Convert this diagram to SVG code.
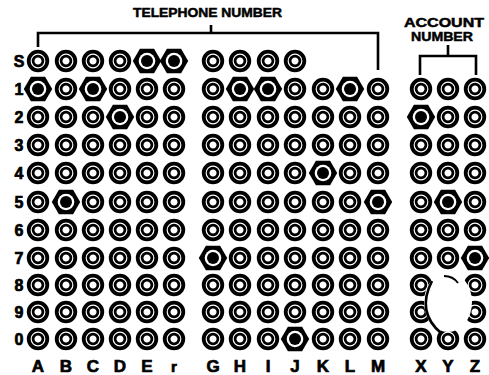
<svg xmlns="http://www.w3.org/2000/svg" xmlns:xlink="http://www.w3.org/1999/xlink" width="489" height="375" viewBox="0 0 489 375">
<style>
.lbl{font-family:"Liberation Sans",Arial,sans-serif;font-weight:bold;fill:#000;stroke:#000;stroke-width:0.7}
.row{font-size:16px;text-anchor:middle}
.col{font-size:17px;text-anchor:middle}
.ttl{font-size:13px;stroke-width:0.5}
.br{fill:none;stroke:#000;stroke-width:2.6}
</style>
<defs>
<g id="c"><circle r="9.3" fill="none" stroke="#000" stroke-width="3.8"/><circle r="4.9" fill="none" stroke="#000" stroke-width="2.7"/></g>
<g id="h"><polygon points="14.2,0 7.1,12.3 -7.1,12.3 -14.2,0 -7.1,-12.3 7.1,-12.3" fill="#000"/><circle r="8.3" fill="#fff"/><circle r="6" fill="#000"/></g>
</defs>
<rect width="489" height="375" fill="#fff"/>
<g id="titles">
<text class="lbl ttl" x="133" y="17" textLength="149" lengthAdjust="spacingAndGlyphs">TELEPHONE NUMBER</text>
<text class="lbl ttl" x="404" y="27" textLength="80" lengthAdjust="spacingAndGlyphs">ACCOUNT</text>
<text class="lbl ttl" x="411" y="41" textLength="62" lengthAdjust="spacingAndGlyphs">NUMBER</text>
</g>
<g id="connectors">
<path class="br" d="M38,47 V33 H378 V70 M211,25 V33"/>
<path class="br" d="M420,75 V56 H476 V75 M448,45 V56"/>
</g>
<g id="row-labels">
<text class="lbl row" x="19" y="67">S</text>
<text class="lbl row" x="19" y="95">1</text>
<text class="lbl row" x="19" y="123">2</text>
<text class="lbl row" x="19" y="151">3</text>
<text class="lbl row" x="19" y="179">4</text>
<text class="lbl row" x="19" y="208">5</text>
<text class="lbl row" x="19" y="236">6</text>
<text class="lbl row" x="19" y="264">7</text>
<text class="lbl row" x="19" y="291">8</text>
<text class="lbl row" x="19" y="318">9</text>
<text class="lbl row" x="19" y="345">0</text>
</g>
<g id="col-labels">
<text class="lbl col" x="38" y="372">A</text>
<text class="lbl col" x="66" y="372">B</text>
<text class="lbl col" x="93" y="372">C</text>
<text class="lbl col" x="120" y="372">D</text>
<text class="lbl col" x="147" y="372">E</text>
<text class="lbl col" x="174" y="372" style="font-size:15px">r</text>
<text class="lbl col" x="213" y="372">G</text>
<text class="lbl col" x="240" y="372">H</text>
<text class="lbl col" x="268" y="372">I</text>
<text class="lbl col" x="295" y="372">J</text>
<text class="lbl col" x="323" y="372">K</text>
<text class="lbl col" x="350" y="372">L</text>
<text class="lbl col" x="378" y="372">M</text>
<text class="lbl col" x="421" y="372">X</text>
<text class="lbl col" x="448" y="372">Y</text>
<text class="lbl col" x="475" y="372">Z</text>
</g>
<g id="holes">
<!-- row S -->
<g id="A-S"><use href="#c" x="38" y="61"/></g>
<g id="B-S"><use href="#c" x="66" y="61"/></g>
<g id="C-S"><use href="#c" x="93" y="61"/></g>
<g id="D-S"><use href="#c" x="120" y="61"/></g>
<g id="E-S"><use href="#h" x="147" y="61"/></g>
<g id="r-S"><use href="#h" x="174" y="61"/></g>
<g id="G-S"><use href="#c" x="213" y="61"/></g>
<g id="H-S"><use href="#c" x="240" y="61"/></g>
<g id="I-S"><use href="#c" x="268" y="61"/></g>
<g id="J-S"><use href="#c" x="295" y="61"/></g>
<!-- row 1 -->
<g id="A-1"><use href="#h" x="38" y="89"/></g>
<g id="B-1"><use href="#c" x="66" y="89"/></g>
<g id="C-1"><use href="#h" x="93" y="89"/></g>
<g id="D-1"><use href="#c" x="120" y="89"/></g>
<g id="E-1"><use href="#c" x="147" y="89"/></g>
<g id="r-1"><use href="#c" x="174" y="89"/></g>
<g id="G-1"><use href="#c" x="213" y="89"/></g>
<g id="H-1"><use href="#h" x="240" y="89"/></g>
<g id="I-1"><use href="#h" x="268" y="89"/></g>
<g id="J-1"><use href="#c" x="295" y="89"/></g>
<g id="K-1"><use href="#c" x="323" y="89"/></g>
<g id="L-1"><use href="#h" x="350" y="89"/></g>
<g id="M-1"><use href="#c" x="378" y="89"/></g>
<g id="X-1"><use href="#c" x="421" y="89"/></g>
<g id="Y-1"><use href="#c" x="448" y="89"/></g>
<g id="Z-1"><use href="#c" x="475" y="89"/></g>
<!-- row 2 -->
<g id="A-2"><use href="#c" x="38" y="117"/></g>
<g id="B-2"><use href="#c" x="66" y="117"/></g>
<g id="C-2"><use href="#c" x="93" y="117"/></g>
<g id="D-2"><use href="#h" x="120" y="117"/></g>
<g id="E-2"><use href="#c" x="147" y="117"/></g>
<g id="r-2"><use href="#c" x="174" y="117"/></g>
<g id="G-2"><use href="#c" x="213" y="117"/></g>
<g id="H-2"><use href="#c" x="240" y="117"/></g>
<g id="I-2"><use href="#c" x="268" y="117"/></g>
<g id="J-2"><use href="#c" x="295" y="117"/></g>
<g id="K-2"><use href="#c" x="323" y="117"/></g>
<g id="L-2"><use href="#c" x="350" y="117"/></g>
<g id="M-2"><use href="#c" x="378" y="117"/></g>
<g id="X-2"><use href="#h" x="421" y="117"/></g>
<g id="Y-2"><use href="#c" x="448" y="117"/></g>
<g id="Z-2"><use href="#c" x="475" y="117"/></g>
<!-- row 3 -->
<g id="A-3"><use href="#c" x="38" y="145"/></g>
<g id="B-3"><use href="#c" x="66" y="145"/></g>
<g id="C-3"><use href="#c" x="93" y="145"/></g>
<g id="D-3"><use href="#c" x="120" y="145"/></g>
<g id="E-3"><use href="#c" x="147" y="145"/></g>
<g id="r-3"><use href="#c" x="174" y="145"/></g>
<g id="G-3"><use href="#c" x="213" y="145"/></g>
<g id="H-3"><use href="#c" x="240" y="145"/></g>
<g id="I-3"><use href="#c" x="268" y="145"/></g>
<g id="J-3"><use href="#c" x="295" y="145"/></g>
<g id="K-3"><use href="#c" x="323" y="145"/></g>
<g id="L-3"><use href="#c" x="350" y="145"/></g>
<g id="M-3"><use href="#c" x="378" y="145"/></g>
<g id="X-3"><use href="#c" x="421" y="145"/></g>
<g id="Y-3"><use href="#c" x="448" y="145"/></g>
<g id="Z-3"><use href="#c" x="475" y="145"/></g>
<!-- row 4 -->
<g id="A-4"><use href="#c" x="38" y="173"/></g>
<g id="B-4"><use href="#c" x="66" y="173"/></g>
<g id="C-4"><use href="#c" x="93" y="173"/></g>
<g id="D-4"><use href="#c" x="120" y="173"/></g>
<g id="E-4"><use href="#c" x="147" y="173"/></g>
<g id="r-4"><use href="#c" x="174" y="173"/></g>
<g id="G-4"><use href="#c" x="213" y="173"/></g>
<g id="H-4"><use href="#c" x="240" y="173"/></g>
<g id="I-4"><use href="#c" x="268" y="173"/></g>
<g id="J-4"><use href="#c" x="295" y="173"/></g>
<g id="K-4"><use href="#h" x="323" y="173"/></g>
<g id="L-4"><use href="#c" x="350" y="173"/></g>
<g id="M-4"><use href="#c" x="378" y="173"/></g>
<g id="X-4"><use href="#c" x="421" y="173"/></g>
<g id="Y-4"><use href="#c" x="448" y="173"/></g>
<g id="Z-4"><use href="#c" x="475" y="173"/></g>
<!-- row 5 -->
<g id="A-5"><use href="#c" x="38" y="202"/></g>
<g id="B-5"><use href="#h" x="66" y="202"/></g>
<g id="C-5"><use href="#c" x="93" y="202"/></g>
<g id="D-5"><use href="#c" x="120" y="202"/></g>
<g id="E-5"><use href="#c" x="147" y="202"/></g>
<g id="r-5"><use href="#c" x="174" y="202"/></g>
<g id="G-5"><use href="#c" x="213" y="202"/></g>
<g id="H-5"><use href="#c" x="240" y="202"/></g>
<g id="I-5"><use href="#c" x="268" y="202"/></g>
<g id="J-5"><use href="#c" x="295" y="202"/></g>
<g id="K-5"><use href="#c" x="323" y="202"/></g>
<g id="L-5"><use href="#c" x="350" y="202"/></g>
<g id="M-5"><use href="#h" x="378" y="202"/></g>
<g id="X-5"><use href="#c" x="421" y="202"/></g>
<g id="Y-5"><use href="#h" x="448" y="202"/></g>
<g id="Z-5"><use href="#c" x="475" y="202"/></g>
<!-- row 6 -->
<g id="A-6"><use href="#c" x="38" y="230"/></g>
<g id="B-6"><use href="#c" x="66" y="230"/></g>
<g id="C-6"><use href="#c" x="93" y="230"/></g>
<g id="D-6"><use href="#c" x="120" y="230"/></g>
<g id="E-6"><use href="#c" x="147" y="230"/></g>
<g id="r-6"><use href="#c" x="174" y="230"/></g>
<g id="G-6"><use href="#c" x="213" y="230"/></g>
<g id="H-6"><use href="#c" x="240" y="230"/></g>
<g id="I-6"><use href="#c" x="268" y="230"/></g>
<g id="J-6"><use href="#c" x="295" y="230"/></g>
<g id="K-6"><use href="#c" x="323" y="230"/></g>
<g id="L-6"><use href="#c" x="350" y="230"/></g>
<g id="M-6"><use href="#c" x="378" y="230"/></g>
<g id="X-6"><use href="#c" x="421" y="230"/></g>
<g id="Y-6"><use href="#c" x="448" y="230"/></g>
<g id="Z-6"><use href="#c" x="475" y="230"/></g>
<!-- row 7 -->
<g id="A-7"><use href="#c" x="38" y="258"/></g>
<g id="B-7"><use href="#c" x="66" y="258"/></g>
<g id="C-7"><use href="#c" x="93" y="258"/></g>
<g id="D-7"><use href="#c" x="120" y="258"/></g>
<g id="E-7"><use href="#c" x="147" y="258"/></g>
<g id="r-7"><use href="#c" x="174" y="258"/></g>
<g id="G-7"><use href="#h" x="213" y="258"/></g>
<g id="H-7"><use href="#c" x="240" y="258"/></g>
<g id="I-7"><use href="#c" x="268" y="258"/></g>
<g id="J-7"><use href="#c" x="295" y="258"/></g>
<g id="K-7"><use href="#c" x="323" y="258"/></g>
<g id="L-7"><use href="#c" x="350" y="258"/></g>
<g id="M-7"><use href="#c" x="378" y="258"/></g>
<g id="X-7"><use href="#c" x="421" y="258"/></g>
<g id="Y-7"><use href="#c" x="448" y="258"/></g>
<g id="Z-7"><use href="#h" x="475" y="258"/></g>
<!-- row 8 -->
<g id="A-8"><use href="#c" x="38" y="285"/></g>
<g id="B-8"><use href="#c" x="66" y="285"/></g>
<g id="C-8"><use href="#c" x="93" y="285"/></g>
<g id="D-8"><use href="#c" x="120" y="285"/></g>
<g id="E-8"><use href="#c" x="147" y="285"/></g>
<g id="r-8"><use href="#c" x="174" y="285"/></g>
<g id="G-8"><use href="#c" x="213" y="285"/></g>
<g id="H-8"><use href="#c" x="240" y="285"/></g>
<g id="I-8"><use href="#c" x="268" y="285"/></g>
<g id="J-8"><use href="#c" x="295" y="285"/></g>
<g id="K-8"><use href="#c" x="323" y="285"/></g>
<g id="L-8"><use href="#c" x="350" y="285"/></g>
<g id="M-8"><use href="#c" x="378" y="285"/></g>
<g id="X-8"><use href="#c" x="421" y="285"/></g>
<g id="Z-8"><use href="#c" x="475" y="285"/></g>
<!-- row 9 -->
<g id="A-9"><use href="#c" x="38" y="312"/></g>
<g id="B-9"><use href="#c" x="66" y="312"/></g>
<g id="C-9"><use href="#c" x="93" y="312"/></g>
<g id="D-9"><use href="#c" x="120" y="312"/></g>
<g id="E-9"><use href="#c" x="147" y="312"/></g>
<g id="r-9"><use href="#c" x="174" y="312"/></g>
<g id="G-9"><use href="#c" x="213" y="312"/></g>
<g id="H-9"><use href="#c" x="240" y="312"/></g>
<g id="I-9"><use href="#c" x="268" y="312"/></g>
<g id="J-9"><use href="#c" x="295" y="312"/></g>
<g id="K-9"><use href="#c" x="323" y="312"/></g>
<g id="L-9"><use href="#c" x="350" y="312"/></g>
<g id="M-9"><use href="#c" x="378" y="312"/></g>
<g id="X-9"><use href="#c" x="421" y="312"/></g>
<g id="Z-9"><use href="#c" x="475" y="312"/></g>
<!-- row 0 -->
<g id="A-0"><use href="#c" x="38" y="339"/></g>
<g id="B-0"><use href="#c" x="66" y="339"/></g>
<g id="C-0"><use href="#c" x="93" y="339"/></g>
<g id="D-0"><use href="#c" x="120" y="339"/></g>
<g id="E-0"><use href="#c" x="147" y="339"/></g>
<g id="r-0"><use href="#c" x="174" y="339"/></g>
<g id="G-0"><use href="#c" x="213" y="339"/></g>
<g id="H-0"><use href="#c" x="240" y="339"/></g>
<g id="I-0"><use href="#c" x="268" y="339"/></g>
<g id="J-0"><use href="#h" x="295" y="339"/></g>
<g id="K-0"><use href="#c" x="323" y="339"/></g>
<g id="L-0"><use href="#c" x="350" y="339"/></g>
<g id="M-0"><use href="#c" x="378" y="339"/></g>
<g id="X-0"><use href="#c" x="421" y="339"/></g>
<g id="Y-0"><use href="#c" x="448" y="339"/></g>
<g id="Z-0"><use href="#c" x="475" y="339"/></g>
</g>
<g id="blemish">
<ellipse cx="448" cy="302" rx="24" ry="30" fill="#fff"/>
<path d="M432,281 Q416,312 441,333" fill="none" stroke="#000" stroke-width="2.6"/>
<path d="M444,276 Q453,276 458,283" fill="none" stroke="#000" stroke-width="2"/>
</g>
</svg>
